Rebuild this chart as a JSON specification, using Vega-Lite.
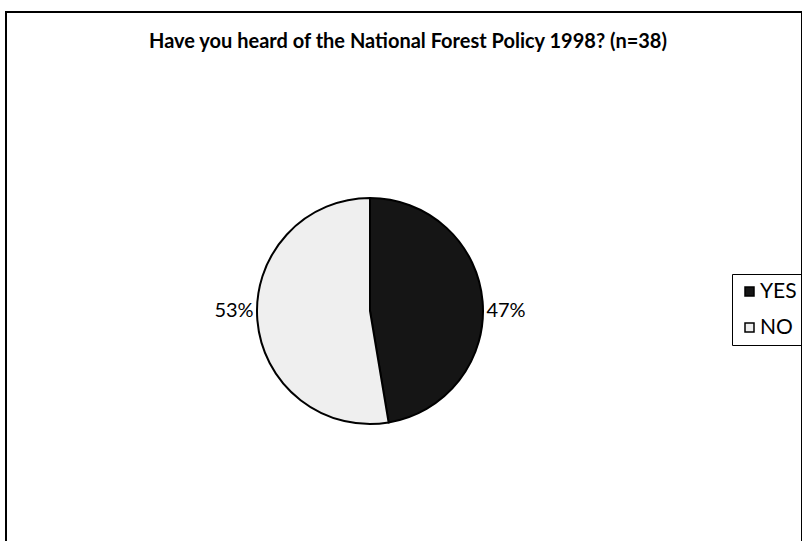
{
  "$schema": "https://vega.github.io/schema/vega-lite/v6.json",
  "width": 796,
  "height": 531,
  "autosize": {"type": "none"},
  "padding": {"left": 6, "top": 12, "right": 0, "bottom": 0},
  "background": "white",
  "view": {"stroke": "black", "strokeWidth": 2, "fill": "white"},
  "config": {"font": "Lato"},
  "title": {
    "text": "Have you heard of the National Forest Policy 1998? (n=38)",
    "fontSize": 20,
    "fontWeight": "bold",
    "font": "Lato",
    "color": "black",
    "offset": -34,
    "dy": 22,
    "dx": 4,
    "baseline": "alphabetic",
    "anchor": "middle"
  },
  "data": {
    "values": [
      {"answer": "YES", "count": 18, "idx": 1, "label": "47%"},
      {"answer": "NO", "count": 20, "idx": 2, "label": "53%"}
    ]
  },
  "layer": [
    {
      "mark": {"type": "arc", "radius": 113, "stroke": "black", "strokeWidth": 2, "xOffset": -34, "yOffset": 33.5},
      "encoding": {
        "theta": {"field": "count", "type": "quantitative", "stack": true},
        "color": {
          "field": "answer",
          "type": "nominal",
          "scale": {"domain": ["YES", "NO"], "range": ["#151515", "#efefef"]},
          "legend": {
            "title": null,
            "orient": "none",
            "legendX": 726,
            "legendY": 262,
            "strokeColor": "black",
            "padding": 7,
            "symbolType": "square",
            "symbolSize": 81,
            "symbolStrokeColor": "black",
            "symbolStrokeWidth": 1.5,
            "labelFontSize": 21,
            "labelFont": "Lato",
            "labelColor": "black",
            "labelOffset": 0,
            "rowPadding": 14
          }
        },
        "order": {"field": "idx", "type": "quantitative"}
      }
    },
    {
      "mark": {"type": "text", "radius": 136, "fontSize": 20, "font": "Lato", "color": "black", "xOffset": -34, "yOffset": 33.5},
      "encoding": {
        "theta": {"field": "count", "type": "quantitative", "stack": true, "scale": {"range": [0.0827, 6.3659]}},
        "text": {"field": "label", "type": "nominal"},
        "order": {"field": "idx", "type": "quantitative"}
      }
    }
  ],
  "resolve": {"scale": {"theta": "independent"}}
}
